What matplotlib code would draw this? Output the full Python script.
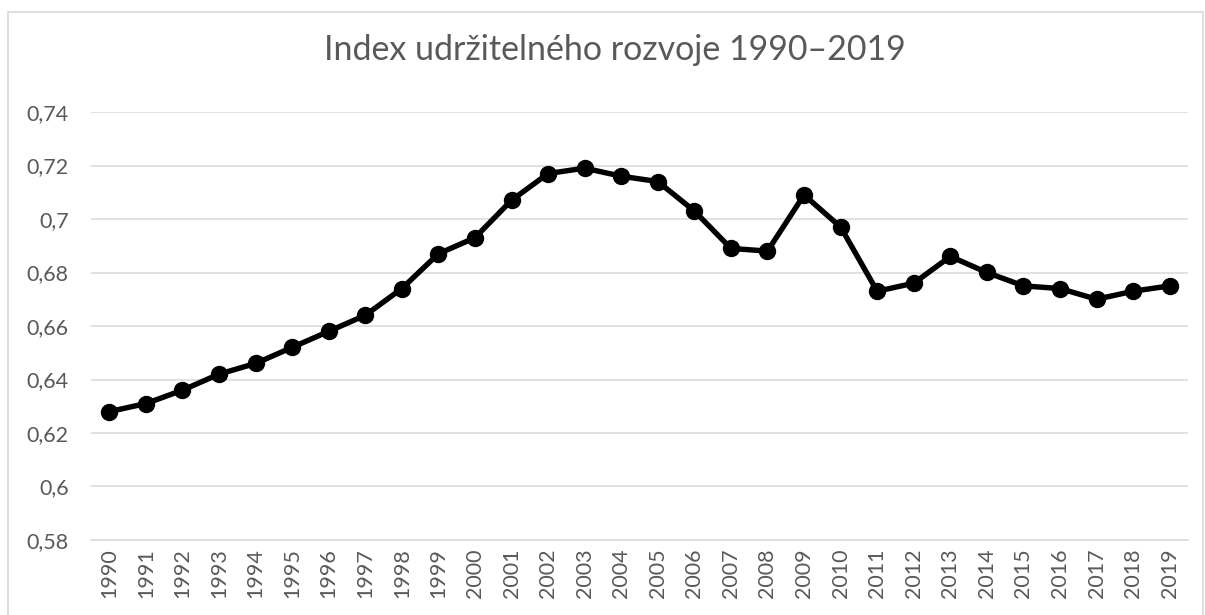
import matplotlib
matplotlib.use("Agg")
import matplotlib.pyplot as plt
from matplotlib.ticker import FuncFormatter, MultipleLocator
from matplotlib.patches import Rectangle

# data
years = list(range(1990, 2020))
index_values = [0.628, 0.631, 0.636, 0.642, 0.646, 0.652, 0.658, 0.664, 0.674, 0.687,
                0.693, 0.707, 0.717, 0.719, 0.716, 0.714, 0.703, 0.689, 0.688, 0.709,
                0.697, 0.673, 0.676, 0.686, 0.680, 0.675, 0.674, 0.670, 0.673, 0.675]
title = "Index udržitelného rozvoje 1990–2019"

text_col = "#595959"
grid_col = "#d9d9d9"

plt.rcParams["font.family"] = ["Lato", "DejaVu Sans"]

fig = plt.figure(figsize=(12.05, 6.15), dpi=100, facecolor="white")
ax = fig.add_axes([91 / 1205, 1 - 540 / 615, (1188 - 91) / 1205, (540 - 112) / 615])

# outer chart frame
fig.patches.append(Rectangle((8 / 1205, -0.1), 1195 / 1205, 1.1 - 12 / 615,
                             transform=fig.transFigure, fill=False,
                             edgecolor=grid_col, lw=1.2))

x = list(range(len(years)))
ax.plot(x, index_values, color="black", lw=3.9, marker="o", markersize=11.5,
        solid_joinstyle="round", zorder=3)

ax.set_xlim(-0.5, len(years) - 0.5)
ax.set_ylim(0.58, 0.74)
ax.yaxis.set_major_locator(MultipleLocator(0.02))


def fmt(v, pos):
    s = f"{v:.2f}".rstrip("0").rstrip(".")
    return s.replace(".", ",")


ax.yaxis.set_major_formatter(FuncFormatter(fmt))
ax.set_xticks(x)
ax.set_xticklabels([str(y) for y in years], rotation=90)

ax.grid(axis="y", color=grid_col, lw=1.1)
ax.set_axisbelow(True)
for s in ["top", "right", "left"]:
    ax.spines[s].set_visible(False)
ax.spines["bottom"].set_color(grid_col)
ax.spines["bottom"].set_linewidth(1.1)
ax.tick_params(axis="both", length=0, colors=text_col, labelsize=15.5)
ax.tick_params(axis="y", pad=16)
ax.tick_params(axis="x", pad=6)

fig.text(615 / 1205, 1 - 50 / 615, title, ha="center", va="center",
         fontsize=24.5, color=text_col)

fig.savefig("out.png", dpi=100, facecolor="white")
